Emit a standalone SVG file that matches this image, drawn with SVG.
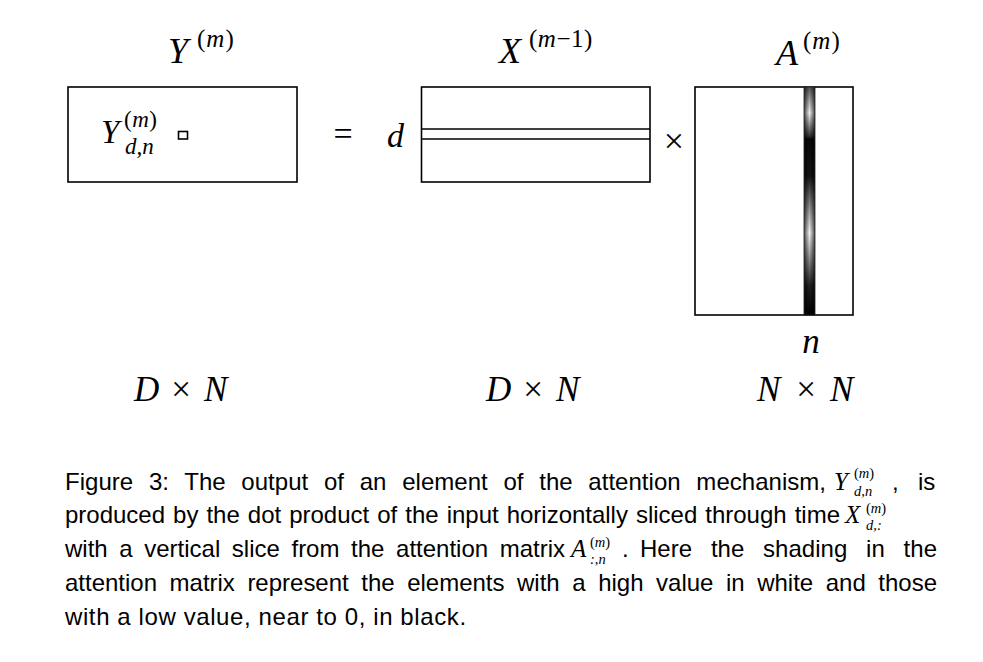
<svg xmlns="http://www.w3.org/2000/svg" width="983" height="662" viewBox="0 0 983 662">
<defs>
<style>
.m{font-family:"Liberation Serif","DejaVu Serif",serif;fill:#000}
.i{font-style:italic}
.cap{font-family:"Liberation Sans","DejaVu Sans",sans-serif;font-size:24px;fill:#000}
.s{font-size:14.5px}
.box{fill:#fff;stroke:#000;stroke-width:1.6}
</style>
<linearGradient id="vg" x1="0" y1="0" x2="0" y2="1">
<stop offset="0" stop-color="#555"/>
<stop offset="0.114" stop-color="#eee"/>
<stop offset="0.215" stop-color="#333"/>
<stop offset="0.228" stop-color="#080808"/>
<stop offset="0.39" stop-color="#141414"/>
<stop offset="0.64" stop-color="#f2f2f2"/>
<stop offset="0.87" stop-color="#222"/>
<stop offset="1" stop-color="#000"/>
</linearGradient>
<linearGradient id="hg" x1="0" y1="0" x2="1" y2="0">
<stop offset="0" stop-color="#000" stop-opacity="0.7"/>
<stop offset="0.5" stop-color="#000" stop-opacity="0"/>
<stop offset="1" stop-color="#000" stop-opacity="0.7"/>
</linearGradient>
</defs>
<rect width="983" height="662" fill="#fff"/>

<g id="Y">
<text class="m i" x="168" y="63" font-size="36">Y</text>
<text class="m" x="197" y="47" font-size="25" letter-spacing="1">(<tspan class="i">m</tspan>)</text>
<rect class="box" x="68" y="87" width="229" height="95"/>
<text class="m i" x="101" y="143" font-size="33">Y</text>
<text class="m" x="124" y="127" font-size="23" letter-spacing="0.5">(<tspan class="i">m</tspan>)</text>
<text class="m i" x="125" y="154" font-size="23">d,n</text>
<rect x="178.5" y="131.5" width="9" height="7.5" fill="none" stroke="#000" stroke-width="1.6"/>
</g>

<g id="eq">
<text class="m" x="343" y="145" font-size="34" text-anchor="middle">=</text>
<text class="m i" x="387" y="147" font-size="34">d</text>
</g>

<g id="X">
<text class="m i" x="499" y="63" font-size="36">X</text>
<text class="m" x="529" y="47" font-size="25" letter-spacing="0.5">(<tspan class="i">m</tspan>−1)</text>
<rect class="box" x="421.5" y="87" width="228.5" height="95"/>
<line x1="421.5" y1="129" x2="650" y2="129" stroke="#000" stroke-width="1.6"/>
<line x1="421.5" y1="139" x2="650" y2="139" stroke="#000" stroke-width="1.6"/>
</g>

<g id="times">
<text class="m" x="674" y="153" font-size="36" text-anchor="middle">×</text>
</g>

<g id="A">
<text class="m i" x="776" y="65" font-size="36">A</text>
<text class="m" x="803" y="49" font-size="25" letter-spacing="1">(<tspan class="i">m</tspan>)</text>
<rect class="box" x="695" y="87" width="158" height="228"/>
<rect x="804" y="87" width="11" height="228" fill="url(#vg)"/>
<rect x="804" y="87" width="11" height="228" fill="url(#hg)"/>
<rect x="804" y="87" width="11" height="228" fill="none" stroke="#222" stroke-width="0.8"/>
<text class="m i" x="811" y="353" font-size="35" text-anchor="middle">n</text>
</g>

<g id="dims" class="m" font-size="35">
<text x="134" y="401" class="i">D</text>
<text x="181" y="401" text-anchor="middle">×</text>
<text x="204" y="401" class="i">N</text>
<text x="486" y="401" class="i">D</text>
<text x="533" y="401" text-anchor="middle">×</text>
<text x="556" y="401" class="i">N</text>
<text x="757" y="401" class="i">N</text>
<text x="806" y="401" text-anchor="middle">×</text>
<text x="830" y="401" class="i">N</text>
</g>

<g id="caption">
<text class="cap" x="65" y="490" word-spacing="9" textLength="761" lengthAdjust="spacing">Figure 3: The output of an element of the attention mechanism,</text>
<text class="m i" x="834" y="490" font-size="25">Y</text>
<text class="m s" x="854" y="478">(<tspan class="i">m</tspan>)</text>
<text class="m i s" x="854" y="496">d,n</text>
<text class="cap" x="892" y="490">,</text>
<text class="cap" x="918" y="490">is</text>

<text class="cap" x="65" y="523" word-spacing="1.4" textLength="775" lengthAdjust="spacing">produced by the dot product of the input horizontally sliced through time</text>
<text class="m i" x="845" y="523" font-size="25">X</text>
<text class="m s" x="866" y="513">(<tspan class="i">m</tspan>)</text>
<text class="m i s" x="866" y="530">d,:</text>

<text class="cap" x="65" y="557" word-spacing="5" textLength="500" lengthAdjust="spacing">with a vertical slice from the attention matrix</text>
<text class="m i" x="571" y="557" font-size="25">A</text>
<text class="m s" x="590" y="547">(<tspan class="i">m</tspan>)</text>
<text class="m i s" x="590" y="564">:,n</text>
<text class="cap" x="622" y="557">.</text>
<text class="cap" x="640" y="557" word-spacing="12" textLength="297" lengthAdjust="spacing">Here the shading in the</text>

<text class="cap" x="65" y="591" word-spacing="5.9" textLength="872" lengthAdjust="spacing">attention matrix represent the elements with a high value in white and those</text>
<text class="cap" x="65" y="625" letter-spacing="0.6">with a low value, near to 0, in black.</text>
</g>
</svg>
